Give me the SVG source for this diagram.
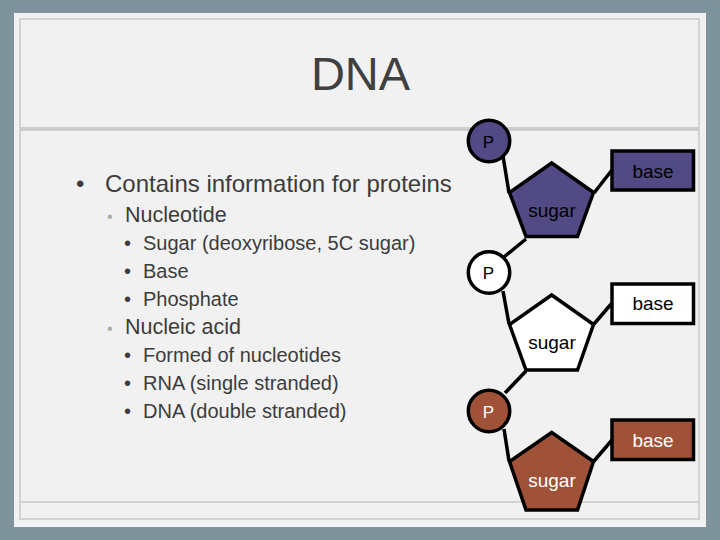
<svg xmlns="http://www.w3.org/2000/svg" width="720" height="540" viewBox="0 0 720 540">
<defs>
<style>
.body{font-family:"Liberation Sans",Arial,sans-serif;fill:#3c3c3c}
.l1{font-size:24px}
.l2{font-size:21.5px}
.l3{font-size:20px}
.b2{fill:#a8a8a8;font-size:16px}
.lbl{font-family:"Liberation Sans",Arial,sans-serif;font-size:19px;text-anchor:middle;fill:#000}
.plbl{font-family:"Liberation Sans",Arial,sans-serif;font-size:17px;text-anchor:middle;fill:#000}
.sh{stroke:#000;stroke-width:3.5;stroke-linejoin:miter}
.purple{fill:#514a84}
.white{fill:#ffffff}
.brown{fill:#9f5238}
.conn line{stroke:#000;stroke-width:3.5;stroke-linecap:butt}
</style>
</defs>
<rect x="0" y="0" width="720" height="540" fill="#7e939c"/>
<rect x="14" y="13" width="692" height="514" fill="#f1f1f1"/>
<rect x="20" y="19" width="679" height="500" fill="none" stroke="#c9c9c4" stroke-width="1.5"/>
<rect x="20" y="127" width="679" height="4" fill="#cccccc"/>
<line x1="20" y1="502" x2="699" y2="502" stroke="#c9c9c4" stroke-width="1.5"/>
<text x="360.5" y="90" text-anchor="middle" font-family="Liberation Sans, Arial, sans-serif" font-size="47" fill="#404040">DNA</text>

<g id="bullets" class="body">
<text class="l1" x="76" y="192">•</text>
<text class="l1" x="105" y="192">Contains information for proteins</text>
<text class="b2" x="107" y="222">•</text>
<text class="l2" x="125" y="222">Nucleotide</text>
<text class="l3" x="124" y="250">•</text>
<text class="l3" x="143" y="250">Sugar (deoxyribose, 5C sugar)</text>
<text class="l3" x="124" y="278">•</text>
<text class="l3" x="143" y="278">Base</text>
<text class="l3" x="124" y="306">•</text>
<text class="l3" x="143" y="306">Phosphate</text>
<text class="b2" x="107" y="334">•</text>
<text class="l2" x="125" y="334">Nucleic acid</text>
<text class="l3" x="124" y="362">•</text>
<text class="l3" x="143" y="362">Formed of nucleotides</text>
<text class="l3" x="124" y="390">•</text>
<text class="l3" x="143" y="390">RNA (single stranded)</text>
<text class="l3" x="124" y="418">•</text>
<text class="l3" x="143" y="418">DNA (double stranded)</text>
</g>

<g id="connectors" class="conn">
<line x1="503" y1="156" x2="509" y2="193"/>
<line x1="594" y1="193" x2="612" y2="170"/>
<line x1="526" y1="239" x2="504" y2="257"/>
<line x1="503" y1="291" x2="509" y2="324"/>
<line x1="594" y1="324" x2="612" y2="303"/>
<line x1="526" y1="371" x2="505" y2="393"/>
<line x1="504" y1="429" x2="509" y2="461"/>
<line x1="594" y1="461" x2="612" y2="440"/>
</g>

<g id="p1"><circle class="sh purple" cx="489" cy="141" r="20.7"/><text class="plbl" x="488.5" y="147.5">P</text></g>
<g id="sugar1"><polygon class="sh purple" points="551.7,163 593.5,192.5 577.5,236.5 526,236.5 509.5,192.5"/><text class="lbl" x="552" y="217">sugar</text></g>
<g id="base1"><rect class="sh purple" x="612" y="151" width="81.5" height="39"/><text class="lbl" x="653" y="177.5">base</text></g>

<g id="p2"><circle class="sh white" cx="489" cy="272.5" r="20.7"/><text class="plbl" x="488.5" y="279">P</text></g>
<g id="sugar2"><polygon class="sh white" points="551.7,295 593.5,324.5 577.5,370 526,370 509.5,324.5"/><text class="lbl" x="552" y="348.5">sugar</text></g>
<g id="base2"><rect class="sh white" x="612" y="284" width="81.5" height="39.5"/><text class="lbl" x="653" y="310">base</text></g>

<g id="p3"><circle class="sh brown" cx="489" cy="411" r="20.7"/><text class="plbl" x="488.5" y="417.5" fill="#fff" style="fill:#fff">P</text></g>
<g id="sugar3"><polygon class="sh brown" points="551.7,432.5 593.5,461.5 577.5,510 526,510 509.5,461.5"/><text class="lbl" x="552" y="487" style="fill:#fff">sugar</text></g>
<g id="base3"><rect class="sh brown" x="612" y="420" width="81.5" height="39.5"/><text class="lbl" x="653" y="447" style="fill:#fff">base</text></g>
</svg>
